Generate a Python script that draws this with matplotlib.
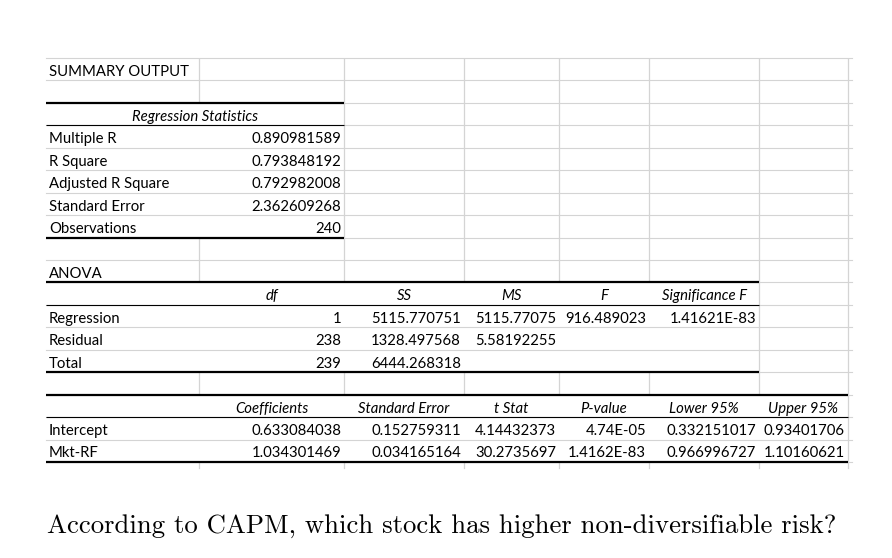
import matplotlib
matplotlib.use("Agg")
import matplotlib.pyplot as plt

# ---------------- data ----------------
title_label = "SUMMARY OUTPUT"
reg_header = "Regression Statistics"
reg_stat_labels = ["Multiple R", "R Square", "Adjusted R Square", "Standard Error", "Observations"]
reg_stat_values = ["0.890981589", "0.793848192", "0.792982008", "2.362609268", "240"]

anova_label = "ANOVA"
anova_headers = ["df", "SS", "MS", "F", "Significance F"]
anova_rows = ["Regression", "Residual", "Total"]
anova_df = ["1", "238", "239"]
anova_ss = ["5115.770751", "1328.497568", "6444.268318"]
anova_ms = ["5115.77075", "5.58192255", ""]
anova_f = ["916.489023", "", ""]
anova_sigf = ["1.41621E-83", "", ""]

coef_headers = ["Coefficients", "Standard Error", "t Stat", "P-value", "Lower 95%", "Upper 95%"]
coef_rows = ["Intercept", "Mkt-RF"]
coefficients = ["0.633084038", "1.034301469"]
std_errors = ["0.152759311", "0.034165164"]
t_stats = ["4.14432373", "30.2735697"]
p_values = ["4.74E-05", "1.4162E-83"]
lower95 = ["0.332151017", "0.966996727"]
upper95 = ["0.93401706", "1.10160621"]

question = "According to CAPM, which stock has higher non-diversifiable risk?"

# ---------------- layout ----------------
W, H = 892, 558
fig = plt.figure(figsize=(W / 100, H / 100), dpi=100)
ax = fig.add_axes([0, 0, 1, 1])
ax.set_xlim(0, W)
ax.set_ylim(H, 0)
ax.axis("off")

col_x = [46, 199, 344, 464, 559, 649, 759, 848]
grid_right = 852
row_top = 58
row_h = (462 - 58) / 18.0
n_rows = 18
row_y = [row_top + i * row_h for i in range(n_rows + 1)]
grid_bottom = row_y[-1] + 6

GRID = "#d4d4d4"
FONT = "Lato"
FS = 10.7
PAD = 3.0

# blocks: (first_row, last_row, first_col, last_col) -> interior vertical lines hidden
blocks = [(2, 7, 0, 1), (10, 13, 0, 5), (15, 17, 0, 6)]

# horizontal gridlines
for y in row_y:
    ax.plot([col_x[0], grid_right], [y, y], color=GRID, lw=0.8, zorder=1)

def hidden(ci, r):
    for (r0, r1, c0, c1) in blocks:
        if r0 <= r <= r1 and c0 < ci <= c1:
            return True
    return False

for ci in range(1, len(col_x)):
    x = col_x[ci]
    for r in range(n_rows):
        if not hidden(ci, r):
            ax.plot([x, x], [row_y[r], row_y[r + 1]], color=GRID, lw=0.9, zorder=1,
                     solid_capstyle="butt")
    ax.plot([x, x], [row_y[-1], grid_bottom], color=GRID, lw=0.9, zorder=1)

def hline(r, c_end, lw):
    ax.plot([col_x[0], col_x[c_end]], [row_y[r], row_y[r]], color="black", lw=lw,
            zorder=3, solid_capstyle="butt")

THICK, THIN = 1.6, 0.8
hline(2, 2, THICK); hline(3, 2, THIN); hline(8, 2, THICK)
hline(10, 6, THICK); hline(11, 6, THIN); hline(14, 6, THICK)
hline(15, 7, THICK); hline(16, 7, THIN); hline(18, 7, THICK)

def base(r):
    return row_y[r + 1] - 4.6

def left(r, c, s, **kw):
    ax.text(col_x[c] + PAD, base(r), s, ha="left", va="baseline",
            fontfamily=FONT, fontsize=FS, color="black", zorder=4, **kw)

def right(r, c, s, **kw):
    ax.text(col_x[c + 1] - PAD, base(r), s, ha="right", va="baseline",
            fontfamily=FONT, fontsize=FS, color="black", zorder=4, **kw)

def center(r, c0, c1, s, **kw):
    ax.text((col_x[c0] + col_x[c1 + 1]) / 2, base(r), s, ha="center", va="baseline",
            fontfamily=FONT, fontsize=FS, color="black", zorder=4, **kw)

left(0, 0, title_label)
center(2, 0, 1, reg_header, style="italic")
for i, (lab, val) in enumerate(zip(reg_stat_labels, reg_stat_values)):
    left(3 + i, 0, lab)
    right(3 + i, 1, val)

left(9, 0, anova_label)
for j, h in enumerate(anova_headers):
    center(10, 1 + j, 1 + j, h, style="italic")
anova_cols = [anova_df, anova_ss, anova_ms, anova_f, anova_sigf]
for i, lab in enumerate(anova_rows):
    left(11 + i, 0, lab)
    for j, col in enumerate(anova_cols):
        if col[i]:
            right(11 + i, 1 + j, col[i])

for j, h in enumerate(coef_headers):
    center(15, 1 + j, 1 + j, h, style="italic")
coef_cols = [coefficients, std_errors, t_stats, p_values, lower95, upper95]
for i, lab in enumerate(coef_rows):
    left(16 + i, 0, lab)
    for j, col in enumerate(coef_cols):
        right(16 + i, 1 + j, col[i])

ax.text(47, 533, question, ha="left", va="baseline", fontfamily="cmr10",
        fontsize=19.25, color="black")

fig.savefig("out.png", dpi=100, facecolor="white")
